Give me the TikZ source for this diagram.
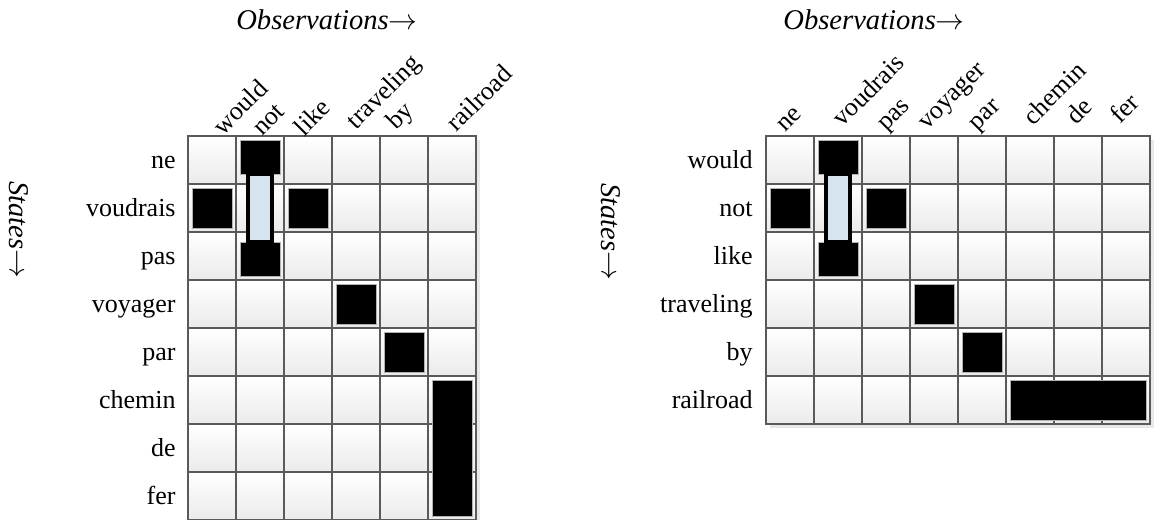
\documentclass[tikz,border=0pt]{standalone}
\usepackage{fontspec}
\setmainfont{Liberation Serif}
\usetikzlibrary{positioning}
\definecolor{gridline}{RGB}{90,90,90}
\definecolor{barblue}{RGB}{214,228,240}
\tikzset{
  cell/.style={draw=gridline, line width=0.6pt, top color=white, bottom color=black!8, minimum size=24pt, inner sep=0pt},
  hitbox/.style={fill=black, draw=gray!60, line width=0.4pt, minimum width=20pt, minimum height=20pt, inner sep=0pt},
  linkbar/.style={draw=black, line width=2pt, fill=barblue},
  word/.style={font=\fontsize{13}{15}\selectfont, inner sep=0pt},
  axis/.style={font=\fontsize{14.3}{16}\selectfont\itshape, inner sep=0pt},
}
\begin{document}
\begin{tikzpicture}[x=0.5pt, y=-0.5pt]
    \useasboundingbox (0,0) rectangle (1154,519);
    % English -> French alignment grid
    \fill[gray!18] (192,140) rectangle (480,524);
    \foreach \r in {1,...,8}
        \foreach \c in {1,...,6}
            \node[cell] (l-\r-\c) at ({164+48*\c},{112+48*\r}) {};
    \node[axis, anchor=base] (lobs) at (327,30) {Observations$\rightarrow$};
    \node[axis, rotate=-90] (lstates) at (19,230) {States$\rightarrow$};
    \foreach \w [count=\r] in {ne,voudrais,pas,voyager,par,chemin,de,fer}
        \node[word, anchor=base east] (lrow\r) at (176,{120.5+48*\r}) {\w};
    \foreach \w/\x/\y [count=\c] in {would/240/107, not/269/120, like/312/117, traveling/385/93, by/401/117, railroad/479/98}
        \node[word, rotate=45] (lcol\c) at (\x,\y) {\w};
    \node[hitbox, minimum height=17pt] (lnottop) at (260,157) {};
    \node[hitbox, minimum height=17pt] (lnotbot) at (260,259) {};
    \draw[linkbar] ([xshift=-6pt]lnottop.south) rectangle ([xshift=6pt]lnotbot.north);
    \node[hitbox] (lwould) at (l-2-1) {};
    \node[hitbox] (llike) at (l-2-3) {};
    \node[hitbox] (ltravel) at (l-4-4) {};
    \node[hitbox] (lby) at (l-5-5) {};
    \node[hitbox, minimum height=68pt] (lrail) at (452,448) {};

    % French -> English alignment grid
    \fill[gray!18] (770,140) rectangle (1154,428);
    \foreach \r in {1,...,6}
        \foreach \c in {1,...,8}
            \node[cell] (r-\r-\c) at ({742+48*\c},{112+48*\r}) {};
    \node[axis, anchor=base] (robs) at (874,30) {Observations$\rightarrow$};
    \node[axis, rotate=-90] (rstates) at (611,232) {States$\rightarrow$};
    \foreach \w [count=\r] in {would,not,like,traveling,by,railroad}
        \node[word, anchor=base east] (rrow\r) at (753,{120.5+48*\r}) {\w};
    \foreach \w/\x/\y [count=\c] in {ne/790/120, voudrais/868/90, pas/896/117, voyager/954/98, par/987/117, chemin/1054/93, de/1079/111, fer/1124/108}
        \node[word, rotate=45] (rcol\c) at (\x,\y) {\w};
    \node[hitbox, minimum height=17pt] (rvoutop) at (838,157) {};
    \node[hitbox, minimum height=17pt] (rvoubot) at (838,259) {};
    \draw[linkbar] ([xshift=-6pt]rvoutop.south) rectangle ([xshift=6pt]rvoubot.north);
    \node[hitbox] (rne) at (r-2-1) {};
    \node[hitbox] (rpas) at (r-2-3) {};
    \node[hitbox] (rvoyager) at (r-4-4) {};
    \node[hitbox] (rpar) at (r-5-5) {};
    \node[hitbox, minimum width=68pt] (rchemin) at (1078,400) {};
\end{tikzpicture}
\end{document}
